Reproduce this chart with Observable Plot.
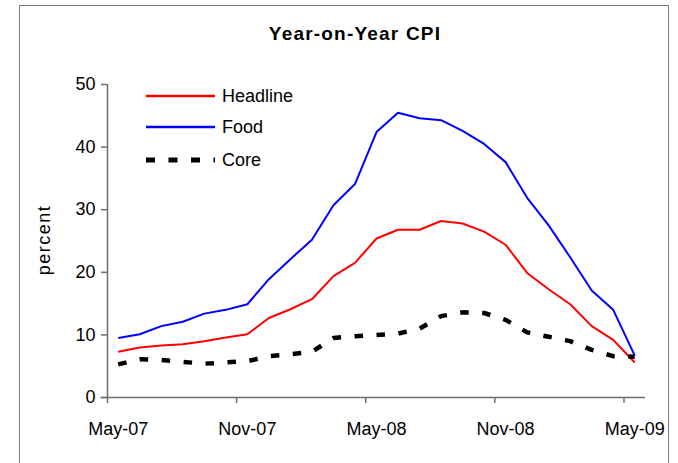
<!DOCTYPE html>
<html>
<head>
<meta charset="utf-8">
<script src="https://cdn.jsdelivr.net/npm/d3@7"></script>
<script src="https://cdn.jsdelivr.net/npm/@observablehq/plot@0.6"></script>
<style>
  html, body { margin: 0; padding: 0; background: #fff; }
  #wrap { position: relative; width: 678px; height: 463px; overflow: hidden; background: #fff; font-family: "Liberation Sans", Arial, sans-serif; }
  #frame { position: absolute; left: 19px; top: 5px; width: 650px; height: 480px; border: 1.5px solid #7a7a7a; box-sizing: border-box; }
  #title { position: absolute; left: 0; width: 710px; top: 23px; text-align: center; font-weight: bold; font-size: 19px; letter-spacing: 1.2px; color: #000; }
  #ylab { position: absolute; left: 44px; top: 240px; transform: translate(-50%, -50%) rotate(-90deg); font-size: 18px; letter-spacing: 1.5px; white-space: nowrap; color: #000; }
  #chart { position: absolute; left: 0; top: 0; }
  #legend { position: absolute; left: 0; top: 0; }
</style>
</head>
<body>
<div id="wrap">
  <div id="frame"></div>
  <div id="chart"></div>
  <div id="title">Year-on-Year CPI</div>
  <div id="ylab">percent</div>
  <div id="legend"></div>
</div>
<script>
// Months from May-07 to May-09 (index 0..24)
const months = ["May-07","Jun-07","Jul-07","Aug-07","Sep-07","Oct-07","Nov-07","Dec-07","Jan-08","Feb-08","Mar-08","Apr-08",
                "May-08","Jun-08","Jul-08","Aug-08","Sep-08","Oct-08","Nov-08","Dec-08","Jan-09","Feb-09","Mar-09","Apr-09","May-09"];
const headline = [7.3, 8.0, 8.3, 8.5, 9.0, 9.6, 10.1, 12.7, 14.1, 15.7, 19.4, 21.5, 25.4, 26.8, 26.8, 28.2, 27.8, 26.5, 24.4, 19.9, 17.3, 14.9, 11.4, 9.2, 5.6];
const food     = [9.5, 10.1, 11.4, 12.1, 13.4, 14.0, 14.9, 18.9, 22.1, 25.2, 30.7, 34.1, 42.4, 45.5, 44.6, 44.3, 42.6, 40.5, 37.6, 31.9, 27.5, 22.4, 17.1, 14.0, 6.7];
const core     = [5.3, 6.1, 6.0, 5.7, 5.4, 5.6, 5.8, 6.6, 6.9, 7.3, 9.5, 9.8, 10.0, 10.2, 11.0, 13.0, 13.6, 13.5, 12.4, 10.4, 9.7, 9.0, 7.6, 6.6, 6.5];
const yTicks = [0, 10, 20, 30, 40, 50];
const xLabelMonths = ["May-07", "Nov-07", "May-08", "Nov-08", "May-09"];

const series = [
  {name: "Headline", values: headline, color: "#ff0000", width: 2, dash: null},
  {name: "Food", values: food, color: "#0000ff", width: 2, dash: null},
  {name: "Core", values: core, color: "#000000", width: 4.5, dash: "8.5,13.5"}
];

const labelIdx = xLabelMonths.map(m => months.indexOf(m));
const boundaryTicks = labelIdx.map(i => i - 0.5);

const lineMarks = series.map(s => Plot.line(
  s.values.map((v, i) => ({i, v})),
  {x: "i", y: "v", stroke: s.color, strokeWidth: s.width, strokeDasharray: s.dash || undefined, strokeLinecap: "butt", strokeLinejoin: "miter", curve: "linear"}
));

const chart = Plot.plot({
  width: 678,
  height: 463,
  marginLeft: 107,
  marginRight: 33,
  marginTop: 84,
  marginBottom: 66,
  style: {fontFamily: "'Liberation Sans', Arial, sans-serif", fontSize: "18px", background: "transparent", color: "#000"},
  x: {domain: [-0.5, months.length - 0.5]},
  y: {domain: [0, 50]},
  marks: [
    Plot.axisY({ticks: yTicks, tickSize: 6, tickPadding: 6, stroke: "#6e6e6e", strokeWidth: 1.5, fill: "#000", label: null}),
    Plot.axisX({ticks: boundaryTicks, tickSize: 6, stroke: "#6e6e6e", strokeWidth: 1.5, tickFormat: () => "", label: null}),
    Plot.axisX({ticks: labelIdx, tickSize: 0, tickPadding: 25, fill: "#000", tickFormat: i => months[i], label: null}),
    ...lineMarks,
    Plot.ruleX([-0.5], {stroke: "#6e6e6e", strokeWidth: 1.5}),
    Plot.ruleY([0], {stroke: "#6e6e6e", strokeWidth: 1.5, x1: -0.8, x2: months.length - 0.5})
  ]
});
document.getElementById("chart").appendChild(chart);

// Legend (drawn in SVG overlay)
const ns = "http://www.w3.org/2000/svg";
const lg = document.createElementNS(ns, "svg");
lg.setAttribute("width", 678); lg.setAttribute("height", 463);
const legendY = [96, 127, 160];
series.forEach((s, k) => {
  const ln = document.createElementNS(ns, "line");
  ln.setAttribute("x1", 146); ln.setAttribute("x2", 215);
  ln.setAttribute("y1", legendY[k]); ln.setAttribute("y2", legendY[k]);
  ln.setAttribute("stroke", s.color);
  ln.setAttribute("stroke-width", s.dash ? 5 : 2.5);
  if (s.dash) ln.setAttribute("stroke-dasharray", "9,13.5");
  lg.appendChild(ln);
  const t = document.createElementNS(ns, "text");
  t.setAttribute("x", 222); t.setAttribute("y", legendY[k]);
  t.setAttribute("dy", "0.35em");
  t.setAttribute("font-family", "'Liberation Sans', Arial, sans-serif");
  t.setAttribute("font-size", "18");
  t.textContent = s.name;
  lg.appendChild(t);
});
document.getElementById("legend").appendChild(lg);
</script>
</body>
</html>
